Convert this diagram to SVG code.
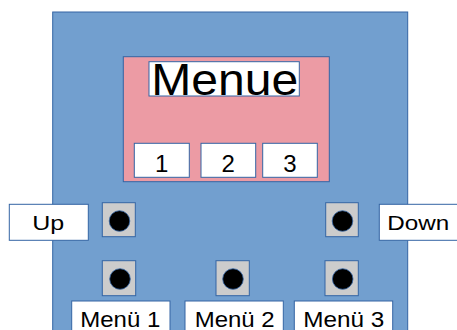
<svg xmlns="http://www.w3.org/2000/svg" width="457" height="330" viewBox="0 0 457 330">
<style>
.box{fill:#ffffff;stroke:#3465a4;stroke-width:1}
.btn{fill:#cccccc;stroke:#3465a4;stroke-width:1}
.dot{fill:#000000;stroke:#3465a4;stroke-width:0.8}
text{font-family:"Liberation Sans",Arial,sans-serif;fill:#000000;text-anchor:middle}
</style>
<rect width="457" height="330" fill="#ffffff"/>
<g id="housing"><rect x="52.7" y="12" width="355" height="330" fill="#729fcf" stroke="#3465a4" stroke-width="1"/></g>
<g id="display"><rect x="123.3" y="56.7" width="206" height="125" fill="#ec9ba4" stroke="#3465a4" stroke-width="1"/></g>
<g id="title"><rect x="149" y="61.7" width="150.3" height="34.3" class="box"/><text x="224.7" y="95" font-size="44" textLength="147" lengthAdjust="spacingAndGlyphs">Menue</text></g>
<g id="d1"><rect x="134.3" y="143.3" width="55" height="34" class="box"/><text x="161.8" y="171.5" font-size="24">1</text></g>
<g id="d2"><rect x="201" y="143.3" width="54.7" height="34" class="box"/><text x="228.3" y="171.5" font-size="24">2</text></g>
<g id="d3"><rect x="262.7" y="143.3" width="54.6" height="34" class="box"/><text x="290" y="171.5" font-size="24">3</text></g>
<g id="up-label"><rect x="9.3" y="204.3" width="79" height="36" class="box"/><text x="48.3" y="230" font-size="21" textLength="32" lengthAdjust="spacingAndGlyphs">Up</text></g>
<g id="down-label"><rect x="379.3" y="204.3" width="90" height="36" class="box"/><text x="418.3" y="230" font-size="21" textLength="62" lengthAdjust="spacingAndGlyphs">Down</text></g>
<g id="up-btn"><rect x="102.3" y="202.7" width="33" height="34" class="btn"/><circle cx="119.5" cy="221" r="10.3" class="dot"/></g>
<g id="down-btn"><rect x="325.7" y="202.7" width="32.6" height="34" class="btn"/><circle cx="342.5" cy="221" r="10.3" class="dot"/></g>
<g id="m1-btn"><rect x="102.3" y="260.7" width="33.4" height="35" class="btn"/><circle cx="120" cy="279" r="10.3" class="dot"/></g>
<g id="m2-btn"><rect x="216" y="260.7" width="33.3" height="35" class="btn"/><circle cx="233" cy="279" r="10.3" class="dot"/></g>
<g id="m3-btn"><rect x="325" y="260.7" width="33.3" height="35" class="btn"/><circle cx="342.7" cy="279" r="10.3" class="dot"/></g>
<g id="m1-label"><rect x="71.7" y="301" width="98.3" height="40" class="box"/><text x="120.3" y="326.5" font-size="21.5" textLength="80" lengthAdjust="spacingAndGlyphs">Menü 1</text></g>
<g id="m2-label"><rect x="185" y="301" width="98.3" height="40" class="box"/><text x="234.7" y="326.5" font-size="21.5" textLength="80" lengthAdjust="spacingAndGlyphs">Menü 2</text></g>
<g id="m3-label"><rect x="294.3" y="301" width="98.4" height="40" class="box"/><text x="343.8" y="326.5" font-size="21.5" textLength="81" lengthAdjust="spacingAndGlyphs">Menü 3</text></g>
<g id="connectors"></g>
</svg>
